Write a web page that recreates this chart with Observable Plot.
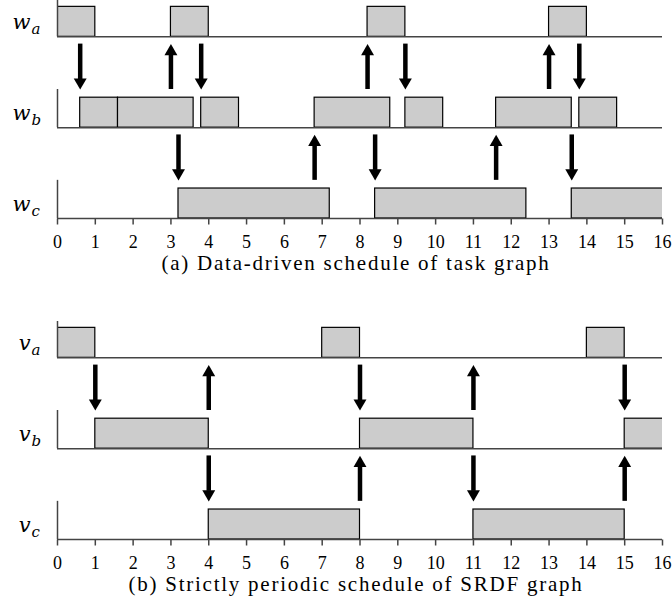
<!DOCTYPE html>
<html><head><meta charset="utf-8">
<script src="https://cdn.jsdelivr.net/npm/d3@7"></script>
<script src="https://cdn.jsdelivr.net/npm/@observablehq/plot@0.6"></script>
<style>body{margin:0;background:#fff} svg{display:block}</style>
</head><body><div id="chart"></div>
<script>
// x-axis tick labels
const ticks = [0,1,2,3,4,5,6,7,8,9,10,11,12,13,14,15,16];

// Panel (a): data-driven schedule of task graph
const captionA = "(a) Data-driven schedule of task graph";
const symbolA = "w";
const lanesA = ["a","b","c"];
const jobLaneA  = [0,0,0,0, 1,1,1,1,1,1,1, 2,2,2];
const jobStartA = [0,3,8.2,13, 0.6,1.6,3.8,6.8,9.2,11.6,13.8, 3.2,8.4,13.6];
const jobEndA   = [1,4,9.2,14, 1.6,3.6,4.8,8.8,10.2,13.6,14.8, 7.2,12.4,17.6];
const arrowGapA  = [0,0,0,0,0,0,0, 1,1,1,1,1];
const arrowTimeA = [0.6,3,3.8,8.2,9.2,13,13.8, 3.2,6.8,8.4,11.6,13.6];
const arrowDirA  = ["down","up","down","up","down","up","down", "down","up","down","up","down"];

// Panel (b): strictly periodic schedule of SRDF graph
const captionB = "(b) Strictly periodic schedule of SRDF graph";
const symbolB = "v";
const lanesB = ["a","b","c"];
const jobLaneB  = [0,0,0, 1,1,1, 2,2];
const jobStartB = [0,7,14, 1,8,15, 4,11];
const jobEndB   = [1,8,15, 4,11,18, 8,15];
const arrowGapB  = [0,0,0,0,0, 1,1,1,1];
const arrowTimeB = [1,4,8,11,15, 4,8,11,15];
const arrowDirB  = ["down","up","down","up","down", "down","up","down","up"];

const BOX = 0.33, AXIS = 0.42, A_TOP = 0.08, A_BOT = 0.42;
const serif = "'Liberation Serif', serif";
const italic = "'DejaVu Serif', serif";
const tickSymbol = {draw(c) { c.moveTo(0, 0); c.lineTo(0, 6); }};

function panel(o) {
  const jobs = o.lane.map((l, i) => ({lane: l, start: o.start[i], end: o.end[i]}));
  const arrows = o.gap.map((g, i) => ({t: o.time[i], dir: o.dir[i], top: g + A_TOP, bottom: g + 1 - A_BOT}));
  const down = arrows.filter(d => d.dir === "down");
  const up = arrows.filter(d => d.dir === "up");
  const lanes = o.lanes.map((c, i) => ({lane: i, sym: o.symbol, sub: c}));
  const svg = Plot.plot({
    width: 672, height: o.height,
    marginLeft: 57, marginRight: 10, marginTop: 0, marginBottom: o.height - 218,
    x: {domain: [0, 16], axis: null, label: null},
    y: {domain: [-0.4, 2], reverse: true, axis: null, label: null},
    marks: [
      Plot.rect(jobs, {x1: "start", x2: "end", y1: d => d.lane - BOX, y2: "lane",
        fill: "#cccccc", stroke: "#000", strokeWidth: 1.2, clip: "frame"}),
      Plot.ruleY(lanes, {y: "lane", x1: d => 0, x2: d => 16, stroke: "#444", strokeWidth: 1.5}),
      Plot.ruleX(lanes, {x: d => 0, y1: d => d.lane - AXIS, y2: "lane", stroke: "#444", strokeWidth: 1.5}),
      Plot.dot(ticks, {x: d => d, frameAnchor: "bottom", symbol: tickSymbol, r: 2, fill: "none", stroke: "#444", strokeWidth: 1.5}),
      Plot.text(ticks, {x: d => d, text: d => String(d), frameAnchor: "bottom", dy: 17, lineAnchor: "top",
        fontFamily: serif, fontSize: 18, fill: "#000"}),
      Plot.ruleX(down, {x: "t", y1: "top", y2: "bottom", stroke: "#000", strokeWidth: 4.5, insetBottom: 10}),
      Plot.dot(down, {x: "t", y: "bottom", symbol: "triangle", r: 4.8, rotate: 180, fill: "#000", stroke: "none", dy: -7.4}),
      Plot.ruleX(up, {x: "t", y1: "top", y2: "bottom", stroke: "#000", strokeWidth: 4.5, insetTop: 10}),
      Plot.dot(up, {x: "t", y: "top", symbol: "triangle", r: 4.8, fill: "#000", stroke: "none", dy: 7.4}),
      Plot.text(lanes, {y: "lane", text: "sym", frameAnchor: "left", dx: -27, dy: -8, lineAnchor: "bottom",
        textAnchor: "end", fontFamily: italic, fontStyle: "italic", fontSize: 21, fill: "#000"}),
      Plot.text(lanes, {y: "lane", text: "sub", frameAnchor: "left", dx: -26, dy: -3, lineAnchor: "bottom",
        textAnchor: "start", fontFamily: italic, fontStyle: "italic", fontSize: 15, fill: "#000"}),
      Plot.text([o.caption], {text: d => d, frameAnchor: "bottom", dx: -4, dy: 37, lineAnchor: "top",
        fontFamily: serif, fontSize: 21, fill: "#000"})
    ]
  });
  d3.select(svg).selectAll("text")
    .filter(function() { return this.textContent === o.caption; })
    .style("letter-spacing", "1.75px");
  return svg;
}

const root = document.getElementById("chart");
root.append(panel({symbol: symbolA, lanes: lanesA, lane: jobLaneA, start: jobStartA, end: jobEndA,
  gap: arrowGapA, time: arrowTimeA, dir: arrowDirA, caption: captionA, height: 321}));
root.append(panel({symbol: symbolB, lanes: lanesB, lane: jobLaneB, start: jobStartB, end: jobEndB,
  gap: arrowGapB, time: arrowTimeB, dir: arrowDirB, caption: captionB, height: 295}));
</script></body></html>
